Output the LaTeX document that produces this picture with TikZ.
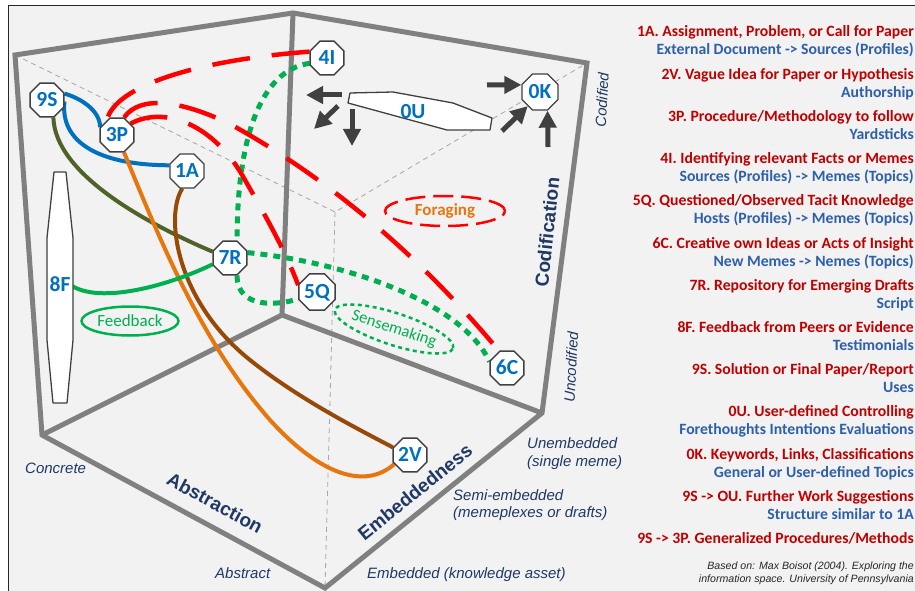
\documentclass[tikz,border=0pt]{standalone}
\usepackage{fontspec}
\setmainfont{Carlito}
\newfontfamily\arialf{Liberation Sans}
\usetikzlibrary{arrows.meta,shapes.geometric}
\pgfdeclarelayer{bg}
\pgfdeclarelayer{mid}
\pgfsetlayers{bg,mid,main}
\definecolor{bgc}{HTML}{F2F2F2}
\definecolor{cubeg}{HTML}{808080}
\definecolor{hidg}{HTML}{A6A6A6}
\definecolor{nodeb}{HTML}{0070C0}
\definecolor{octb}{HTML}{404040}
\definecolor{redl}{HTML}{FF0000}
\definecolor{grnl}{HTML}{00B050}
\definecolor{olivel}{HTML}{4F6228}
\definecolor{orngl}{HTML}{E8760E}
\definecolor{brwnl}{HTML}{984807}
\definecolor{navyl}{HTML}{1F3864}
\definecolor{titr}{HTML}{C00000}
\definecolor{subb}{RGB}{46,95,170}
\definecolor{arrg}{HTML}{404040}
\begin{document}
\begin{tikzpicture}[x=1pt,y=-1pt,
  oct/.style={regular polygon, regular polygon sides=8, draw=octb, line width=1.3pt, fill=white,
    minimum size=36.5pt, inner sep=0pt, text=nodeb, text height=13.3pt, text depth=0pt,
    font=\fontsize{21.5}{21.5}\selectfont\bfseries},
  lbl/.style={inner sep=0pt, text=nodeb, text height=13.3pt, text depth=0pt, font=\fontsize{21.5}{21.5}\selectfont\bfseries},
  shapeb/.style={draw=octb, line width=1.3pt, fill=white, line join=round},
  cube/.style={draw=cubeg, line width=5pt},
  hidden/.style={draw=hidg, line width=0.8pt, dash pattern=on 5pt off 4pt},
  conn/.style={line width=4pt},
  redd/.style={draw=redl, line width=4.5pt, dash pattern=on 38pt off 22pt},
  grnd/.style={draw=grnl, line width=5pt, dash pattern=on 7pt off 6pt},
  blk/.style={draw=arrg, line width=5pt, -{Triangle[length=17pt,width=17pt]}},
  ttl/.style={anchor=base east, inner sep=0pt, text=titr, font=\fontsize{15.7}{16}\selectfont\bfseries},
  sub/.style={anchor=base east, inner sep=0pt, text=subb, font=\fontsize{15.7}{16}\selectfont\bfseries},
  axl/.style={anchor=base west, inner sep=0pt, text=navyl, font=\arialf\itshape\fontsize{15}{16}\selectfont},
  axr/.style={inner sep=0pt, text=navyl, font=\arialf\itshape\fontsize{15}{16}\selectfont},
  axb/.style={inner sep=0pt, text=navyl, font=\arialf\bfseries\fontsize{19}{20}\selectfont},
  ref/.style={anchor=base east, inner sep=0pt, text=black!85, font=\arialf\itshape\fontsize{10.6}{11}\selectfont}
]
\useasboundingbox (0,0) rectangle (915,591);
\begin{pgfonlayer}{bg}
\fill[white] (0,0) rectangle (915,591);
\fill[bgc] (8,6) rectangle (915,591);
\draw[black!85, line width=1pt] (8,591) -- (8,6) -- (915,6);
\draw[hidden] (15,55) -- (335,212) -- (587,63);
\draw[hidden] (335,212) -- (325,588);
\draw[cube] (15,55) -- (293,13) -- (587,63) -- (542,413) -- (325,588) -- (42,435) -- cycle;
\draw[cube] (293,13) -- (282,315);
\draw[cube] (42,435) -- (282,315) -- (542,413);
\end{pgfonlayer}

% shapes 8F and 0U
\draw[shapeb] (54,172) -- (66,172) -- (73,238) -- (73,340) -- (67,403) -- (53,403) -- (47,340) -- (47,238) -- cycle;
\node[lbl] (n8F) at (60,285) {8F};
\draw[shapeb] (350,93) -- (393,92) -- (453,103) -- (492,118) -- (490,130) -- (447,130) -- (348,103) -- cycle;
\node[lbl] (n0U) at (413,112) {0U};

% octagon nodes
\node[oct] (n9S) at (47,100) {9S};
\node[oct] (n3P) at (117,135) {3P};
\node[oct] (n1A) at (187,171) {1A};
\node[oct] (n4I) at (327,58) {4I};
\node[oct, minimum size=39pt] (n0K) at (540,92) {0K};
\node[oct] (n7R) at (230,258) {7R};
\node[oct] (n5Q) at (317,292) {5Q};
\node[oct] (n6C) at (507,368) {6C};
\node[oct] (n2V) at (410,455) {2V};

% labelled ellipses
\node[ellipse, draw=grnl, line width=2.5pt, minimum width=97pt, minimum height=29pt, inner sep=0pt,
  text=grnl, font=\fontsize{17}{17}\selectfont] (fb) at (130,321) {Feedback};
\node[ellipse, draw=redl, line width=2.5pt, dash pattern=on 20pt off 8pt, minimum width=120pt, minimum height=30pt, inner sep=0pt,
  text=orngl, font=\fontsize{17}{17}\selectfont\bfseries] (fo) at (445,211) {Foraging};
\node[ellipse, draw=grnl, line width=2.5pt, dash pattern=on 4pt off 3.5pt, minimum width=122pt, minimum height=32pt, inner sep=0pt,
  rotate=-18, text=grnl, font=\fontsize{16.5}{17}\selectfont] (sm) at (394,329) {Sensemaking};

% connectors
\begin{pgfonlayer}{mid}
\draw[conn, draw=nodeb] (n9S.20) .. controls (80,98) and (100,110) .. (n3P.155);
\draw[conn, draw=nodeb] (n9S.-5) .. controls (60,140) and (95,165) .. (n1A.162);
\draw[conn, draw=olivel] (n9S.290) .. controls (55,175) and (150,225) .. (n7R.160);
\draw[conn, draw=orngl] (n3P.292) .. controls (160,240) and (200,340) .. (270,420) .. controls (320,475) and (365,490) .. (n2V.210);
\draw[conn, draw=brwnl] (n1A.255) .. controls (165,215) and (175,300) .. (250,360) .. controls (300,400) and (360,430) .. (n2V.156);
\draw[conn, draw=grnl] (n8F.east) .. controls (100,305) and (170,285) .. (n7R.200);
\draw[grnd] (n4I.197) .. controls (260,70) and (237,140) .. (n7R.68);
\draw[grnd] (n7R.292) .. controls (237,310) and (280,305) .. (n5Q.200);
\draw[grnd] (n7R.17) .. controls (345,262) and (462,302) .. (n6C.160);
\draw[redd] (n4I.160) .. controls (200,60) and (115,85) .. (n3P.125);
\draw[redd] (n3P.68) .. controls (140,95) and (180,100) .. (230,124) .. controls (350,190) and (440,280) .. (n6C.115);
\draw[redd] (n3P.40) .. controls (165,105) and (215,125) .. (245,180) .. controls (265,215) and (285,250) .. (n5Q.160);
\end{pgfonlayer}

% block arrows around 0U and 0K
\coordinate (a1s) at (342,95);  \coordinate (a1e) at (306,95);
\coordinate (a2s) at (338,106); \coordinate (a2e) at (314,129);
\coordinate (a3s) at (352,109); \coordinate (a3e) at (352,146);
\coordinate (a4s) at (487,85);
\coordinate (a5s) at (502,131);
\coordinate (a6s) at (548,147);
\draw[blk] (a1s) -- (a1e);
\draw[blk] (a2s) -- (a2e);
\draw[blk] (a3s) -- (a3e);
\draw[blk] (a4s) -- (n0K.159);
\draw[blk] (a5s) -- (n0K.229);
\draw[blk] (a6s) -- (n0K.292);

% axis labels
\node[axr, rotate=87] (cod) at (602,100) {Codified};
\node[axr, rotate=87] (uncod) at (571,367) {Uncodified};
\node[axb, rotate=84] (codif) at (547,232) {Codification};
\node[axb, rotate=-28.4] (abstr) at (215,503) {Abstraction};
\node[axb, rotate=39] (embn) at (415,492) {Embeddedness};
\node[axl] (conc) at (25,473) {Concrete};
\node[axl] (abst) at (215,578) {Abstract};
\node[axl] (emb) at (367,578) {Embedded (knowledge asset)};
\node[axl] (semi1) at (453,500) {Semi-embedded};
\node[axl] (semi2) at (453,517) {(memeplexes or drafts)};
\node[axl] (unemb1) at (527,448) {Unembedded};
\node[axl] (unemb2) at (527,466) {(single meme)};

% legend list
\node[ttl] (t1) at (914,37) {1A. Assignment, Problem, or Call for Paper};
\node[sub] (s1) at (914,55) {External Document -> Sources (Profiles)};
\node[ttl] (t2) at (914,79.2) {2V. Vague Idea for Paper or Hypothesis};
\node[sub] (s2) at (914,97.2) {Authorship};
\node[ttl] (t3) at (914,121.4) {3P. Procedure/Methodology to follow};
\node[sub] (s3) at (914,139.4) {Yardsticks};
\node[ttl] (t4) at (914,163.6) {4I. Identifying relevant Facts or Memes};
\node[sub] (s4) at (914,181.6) {Sources (Profiles) -> Memes (Topics)};
\node[ttl] (t5) at (914,205.8) {5Q. Questioned/Observed Tacit Knowledge};
\node[sub] (s5) at (914,223.8) {Hosts (Profiles) -> Memes (Topics)};
\node[ttl] (t6) at (914,248) {6C. Creative own Ideas or Acts of Insight};
\node[sub] (s6) at (914,266) {New Memes -> Nemes (Topics)};
\node[ttl] (t7) at (914,290.2) {7R. Repository for Emerging Drafts};
\node[sub] (s7) at (914,308.2) {Script};
\node[ttl] (t8) at (914,332.4) {8F. Feedback from Peers or Evidence};
\node[sub] (s8) at (914,350.4) {Testimonials};
\node[ttl] (t9) at (914,374.6) {9S. Solution or Final Paper/Report};
\node[sub] (s9) at (914,392.6) {Uses};
\node[ttl] (t10) at (914,416.8) {0U. User-defined Controlling};
\node[sub] (s10) at (914,434.8) {Forethoughts Intentions Evaluations};
\node[ttl] (t11) at (914,459) {0K. Keywords, Links, Classifications};
\node[sub] (s11) at (914,477) {General or User-defined Topics};
\node[ttl] (t12) at (914,501.2) {9S -> OU. Further Work Suggestions};
\node[sub] (s12) at (914,519.2) {Structure similar to 1A};
\node[ttl] (t13) at (914,543.4) {9S -> 3P. Generalized Procedures/Methods};
\node[ref] (r1) at (914,569) {Based on: Max Boisot (2004). Exploring the};
\node[ref] (r2) at (914,582) {information space. University of Pennsylvania};
\end{tikzpicture}
\end{document}
